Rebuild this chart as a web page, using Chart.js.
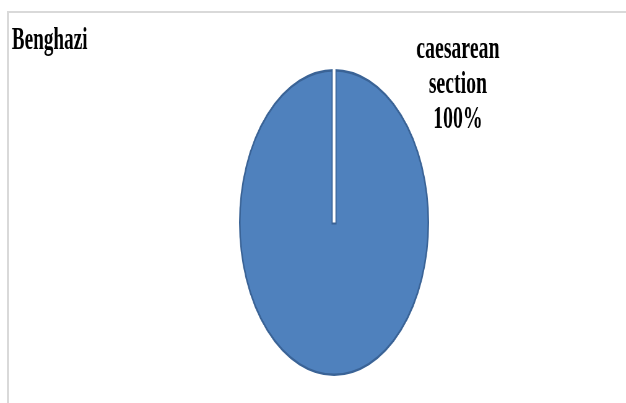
<!DOCTYPE html>
<html lang="en">
<head>
    <meta charset="UTF-8">
    <title>Benghazi</title>
    <script src="https://cdn.jsdelivr.net/npm/chart.js@4/dist/chart.umd.min.js"></script>
    <style>
        body { margin: 0; background: #fff; }
        #wrap { position: relative; width: 626px; height: 403px; overflow: hidden; }
        #frame { position: absolute; left: 7px; top: 11px; right: -5px; bottom: -5px;
                 border-top: 2px solid #d9d9d9; border-left: 2px solid #d9d9d9; }
        #chart { position: absolute; left: 0; top: 0; }
    </style>
</head>
<body>
<div id="wrap">
    <div id="frame"></div>
    <!-- drawn wide, then squeezed to 626px like the original picture -->
    <canvas id="chart" width="1011" height="403" style="width:626px;height:403px"></canvas>
</div>
<script>
    const title = 'Benghazi';
    const categories = ['caesarean section'];
    const values = [100];
    const colors = ['#4f81bd'];

    const total = values.reduce((a, b) => a + b, 0);

    // white seam from centre to the top of the slice, plus the text
    const extras = {
        id: 'extras',
        afterDatasetsDraw(chart) {
            const ctx = chart.ctx;
            const arc = chart.getDatasetMeta(0).data[0];
            const ex = arc.x + Math.cos(arc.startAngle) * arc.outerRadius;
            const ey = arc.y + Math.sin(arc.startAngle) * arc.outerRadius;
            ctx.save();
            ctx.lineCap = 'butt';
            ctx.strokeStyle = '#3a6396';
            ctx.lineWidth = 8;
            ctx.beginPath();
            ctx.moveTo(arc.x, arc.y + 2);
            ctx.lineTo(ex, ey);
            ctx.stroke();
            ctx.strokeStyle = '#ffffff';
            ctx.lineWidth = 4.5;
            ctx.beginPath();
            ctx.moveTo(arc.x, arc.y);
            ctx.lineTo(ex, ey - 2);
            ctx.stroke();

            ctx.fillStyle = '#000';
            ctx.font = 'bold 31px "Liberation Serif", serif';
            ctx.textAlign = 'left';
            ctx.textBaseline = 'alphabetic';
            ctx.fillText(title, 19, 49);

            ctx.font = 'bold 32px "Liberation Serif", serif';
            ctx.textAlign = 'center';
            const lines = categories[0].split(' ');
            lines.push(Math.round(values[0] / total * 100) + '%');
            lines.forEach((t, i) => ctx.fillText(t, arc.x + 200, 58 + i * 35));
            ctx.restore();
        }
    };

    new Chart(document.getElementById('chart'), {
        type: 'pie',
        data: {
            labels: categories,
            datasets: [{
                data: values,
                backgroundColor: colors,
                borderColor: '#3a6396',
                borderWidth: 2.5,
                hoverOffset: 0
            }]
        },
        options: {
            responsive: false,
            animation: false,
            events: [],
            layout: { padding: { top: 69, bottom: 27, left: 386, right: 318 } },
            plugins: {
                legend: { display: false },
                tooltip: { enabled: false },
                title: { display: false }
            }
        },
        plugins: [extras]
    });
</script>
</body>
</html>
